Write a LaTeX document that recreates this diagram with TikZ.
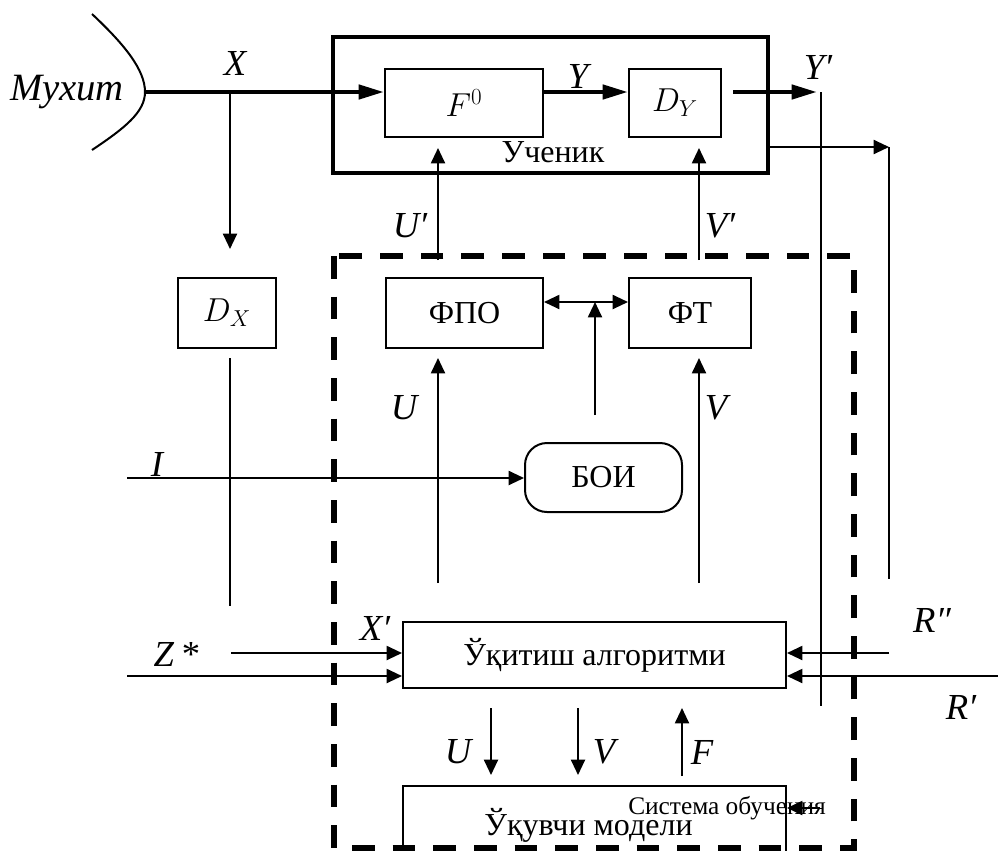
\documentclass[tikz,border=0pt]{standalone}
\usepackage{fontspec}
\setmainfont{Liberation Serif}
\usetikzlibrary{arrows.meta,calc}
\tikzset{
  thinline/.style={line width=1.5pt},
  thickline/.style={line width=3.3pt},
  tarrow/.style={thinline,-{Triangle[length=11.5pt,width=10.5pt]}},
  Tarrow/.style={thickline,-{Triangle[length=19pt,width=10.5pt]}},
  blk/.style={draw,thinline,inner sep=0pt,font=\fontsize{24}{28}\selectfont},
  lbl/.style={inner sep=0pt,font=\fontsize{27.5}{32}\selectfont\itshape},
  dashbox/.style={line width=3.8pt,dash pattern=on 17pt off 13.5pt},
}
\begin{document}
\begin{tikzpicture}[x=0.75pt,y=-0.75pt]
\path[use as bounding box] (0,0) rectangle (998,850);
\clip (0,0) rectangle (998,850);
\fill[white] (0,0) rectangle (998,850);

% environment curve
\draw[thinline] (92,14) .. controls (125,45) and (145,70) .. (145,92)
                        .. controls (145,112) and (125,128) .. (92,150);
\coordinate (mA) at (145,92);
\node[lbl,font=\fontsize{29}{32}\selectfont\itshape] (muh) at (67,92) {Мухит};

% learner
\node[draw,line width=3.3pt,minimum width=326.25pt,minimum height=102pt,inner sep=0pt] (uch) at (550.5,105) {};
\node[inner sep=0pt,font=\fontsize{24}{28}\selectfont] (uchT) at (553,152) {Ученик};
\node[blk,minimum width=118.5pt,minimum height=51pt,font=\fontsize{26}{28}\selectfont] (F0) at (464,103) {$F^0$};
\node[blk,minimum width=69pt,minimum height=51pt,font=\fontsize{26}{28}\selectfont] (DY) at (675,103) {$D_Y$};

\draw[Tarrow] (mA) -- (mA -| F0.west);
\node[lbl] (lX) at (235,63) {X};
\draw[Tarrow] (F0.east |- mA) -- (DY.west |- mA);
\node[lbl] (lY) at (578,76) {Y};
\coordinate (yp0) at (733,92);
\coordinate (yp1) at (817,92);
\coordinate (yv) at (821,92);
\coordinate (yvb) at (821,706);
\draw[Tarrow] (yp0) -- (yp1);
\draw[thinline] (yv) -- (yvb);
\node[lbl] (lYp) at (818,67) {Y′};

\coordinate (ro0) at (768,147);
\coordinate (ro1) at (889,147);
\coordinate (ro2) at (889,579);
\draw[tarrow] (uch.east |- ro0) -- (ro1);
\draw[thinline] (ro1) -- (ro2);

% D_X
\node[blk,minimum width=73.5pt,minimum height=52.5pt,font=\fontsize{26}{28}\selectfont] (DX) at (227,313) {$D_X$};
\coordinate (xd) at (230,92);
\draw[tarrow,shorten >=21pt] (xd) -- (xd |- DX.north);
\coordinate (dxb) at (230,606);
\draw[thinline,shorten <=6.75pt] (xd |- DX.south) -- (dxb);

% dashed system box
\draw[dashbox] (334,256) rectangle (854,848);

% U', V'
\coordinate (up0) at (438,260);
\coordinate (up1) at (438,148);
\coordinate (vp0) at (699,260);
\coordinate (vp1) at (699,148);
\draw[tarrow] (up0) -- (up1);
\draw[tarrow] (vp0) -- (vp1);
\node[lbl] (lUp) at (410,226) {U′};
\node[lbl] (lVp) at (720,226) {V′};

% FPO, FT
\node[blk,minimum width=117.75pt,minimum height=52.5pt] (FPO) at (464.5,313) {ФПО};
\node[blk,minimum width=91.5pt,minimum height=52.5pt] (FT) at (690,313) {ФТ};
\coordinate (mid) at (595,302);
\draw[thinline,{Triangle[length=11.5pt,width=10.5pt]}-{Triangle[length=11.5pt,width=10.5pt]}] (FPO.east |- mid) -- (FT.west |- mid);

% BOI
\node[blk,rounded corners=16.5pt,minimum width=117.75pt,minimum height=51.75pt] (BOI) at (603.5,477.5) {БОИ};
\coordinate (b0) at (595,415);
\draw[tarrow] (b0) -- (mid);
\coordinate (i0) at (127,478);
\draw[tarrow] (i0) -- (BOI.west |- i0);
\node[lbl] (lI) at (157,464) {I};

% U, V up
\coordinate (u0) at (438,583);
\coordinate (v0) at (699,583);
\draw[tarrow,shorten >=6.75pt] (u0) -- (u0 |- FPO.south);
\draw[tarrow,shorten >=6.75pt] (v0) -- (v0 |- FT.south);
\node[lbl] (lU) at (404,408) {U};
\node[lbl] (lV) at (716,408) {V};

% learning algorithm
\node[blk,minimum width=287.25pt,minimum height=49.5pt] (alg) at (594.5,655) {Ўқитиш алгоритми};
\coordinate (z0) at (231,653);
\coordinate (w0) at (127,676);
\draw[tarrow] (z0) -- (alg.west |- z0);
\draw[tarrow] (w0) -- (alg.west |- w0);
\node[lbl] (lZ) at (176,654) {Z\,*};
\node[lbl] (lXp) at (375,628) {X′};
\coordinate (r2) at (889,653);
\coordinate (r1) at (998,676);
\draw[tarrow] (r2) -- (alg.east |- r2);
\draw[tarrow] (r1) -- (alg.east |- r1);
\node[lbl] (lR2) at (932,620) {R″};
\node[lbl] (lR1) at (961,707) {R′};

% student model
\node[blk,minimum width=287.25pt,minimum height=54pt,text depth=0pt] (mod) at (594.5,822) {\hspace*{-9pt}Ўқувчи модели};
\coordinate (a1) at (491,708);
\coordinate (a2) at (578,708);
\coordinate (a3) at (682,776);
\draw[tarrow] (a1) -- (a1 |- 0,775);
\draw[tarrow] (a2) -- (a2 |- 0,775);
\draw[tarrow] (a3) -- (a3 |- 0,708);
\node[lbl] (lU2) at (458,752) {U};
\node[lbl] (lV2) at (604,752) {V};
\node[lbl] (lF) at (702,752) {F};

\node[inner sep=0pt,font=\fontsize{19}{22}\selectfont] (sys) at (727,808) {Система обучения};
\coordinate (s0) at (820,808);
\draw[tarrow] (s0) -- (mod.east |- s0);
\end{tikzpicture}
\end{document}
